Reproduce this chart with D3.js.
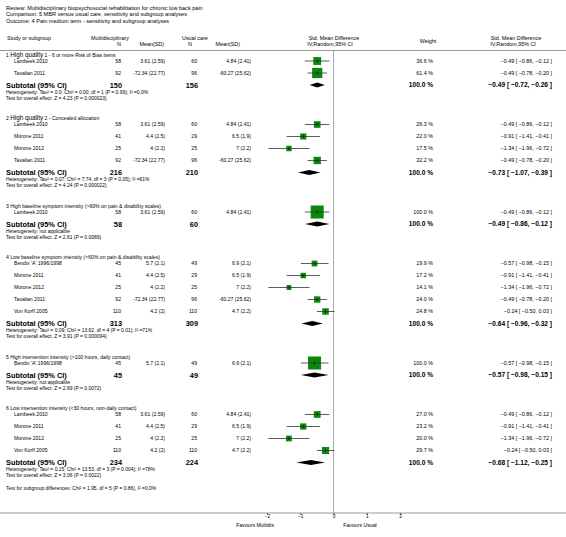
<!DOCTYPE html>
<html><head><meta charset="utf-8">
<script src="https://cdn.jsdelivr.net/npm/d3@7"></script>
<style>
html,body{margin:0;padding:0;background:#fff;}
svg{display:block;font-family:"Liberation Sans",Arial,sans-serif;}
</style></head>
<body><svg id="c" width="566" height="537"></svg>
<script>
// ---------- DATA ----------
const titleLines = [
  "Review:  Multidisciplinary biopsychosocial rehabilitation for chronic low back pain",
  "Comparison:  5 MBR versus usual care, sensitivity and subgroup analyses",
  "Outcome:  4 Pain medium term - sensitivity and subgroup analyses"
];
const groupNums = ["1", "2", "3", "4", "5", "6"];
const groupBig = ["High quality", "High quality", "", "", "", ""];
const groupRest = [
  " 1 - 6 or more Risk of Bias items",
  " 2 - Concealed allocation",
  "High baseline symptom intensity (>60% on pain & disability scales)",
  "Low baseline symptom intensity (<60% on pain & disability scales)",
  "High intervention intensity (>100 hours, daily contact)",
  "Low intervention intensity (<30 hours, non-daily contact)"
];
const studyGroup = [0,0, 1,1,1,1, 2, 3,3,3,3,3, 4, 5,5,5,5];
const studyNames = ["Lambeek 2010","Tavalian 2011",
  "Lambeek 2010","Morone 2011","Morone 2012","Tavalian 2011",
  "Lambeek 2010",
  "Bendix 'A' 1996/1998","Morone 2011","Morone 2012","Tavalian 2011","Von Korff 2005",
  "Bendix 'A' 1996/1998",
  "Lambeek 2010","Morone 2011","Morone 2012","Von Korff 2005"];
const multN = [58,92, 58,41,25,92, 58, 45,41,25,92,110, 45, 58,41,25,110];
const multMean = ["3.61 (2.59)","-72.34 (22.77)",
  "3.61 (2.59)","4.4 (2.5)","4 (2.2)","-72.34 (22.77)",
  "3.61 (2.59)",
  "5.7 (2.1)","4.4 (2.5)","4 (2.2)","-72.34 (22.77)","4.2 (2)",
  "5.7 (2.1)",
  "3.61 (2.59)","4.4 (2.5)","4 (2.2)","4.2 (2)"];
const usualN = [60,96, 60,29,25,96, 60, 49,29,25,96,110, 49, 60,29,25,110];
const usualMean = ["4.84 (2.41)","-60.27 (25.62)",
  "4.84 (2.41)","6.5 (1.9)","7 (2.2)","-60.27 (25.62)",
  "4.84 (2.41)",
  "6.9 (2.1)","6.5 (1.9)","7 (2.2)","-60.27 (25.62)","4.7 (2.2)",
  "6.9 (2.1)",
  "4.84 (2.41)","6.5 (1.9)","7 (2.2)","4.7 (2.2)"];
const weights = [36.6,61.4, 26.3,22.0,17.5,32.2, 100.0, 19.9,17.2,14.1,24.0,24.8, 100.0, 27.0,23.2,20.0,29.7];
const smd   = [-0.49,-0.49, -0.49,-0.91,-1.34,-0.49, -0.49, -0.57,-0.91,-1.34,-0.49,-0.24, -0.57, -0.49,-0.91,-1.34,-0.24];
const ciLow = [-0.86,-0.78, -0.86,-1.41,-1.96,-0.78, -0.86, -0.98,-1.41,-1.96,-0.78,-0.50, -0.98, -0.86,-1.41,-1.96,-0.50];
const ciHigh= [-0.12,-0.20, -0.12,-0.41,-0.72,-0.20, -0.12, -0.15,-0.41,-0.72,-0.20, 0.03, -0.15, -0.12,-0.41,-0.72, 0.03];

const subMultN = [150,216,58,313,45,234];
const subUsualN = [156,210,60,309,49,224];
const subSmd = [-0.49,-0.73,-0.49,-0.64,-0.57,-0.68];
const subLow = [-0.72,-1.07,-0.86,-0.96,-0.98,-1.12];
const subHigh = [-0.26,-0.39,-0.12,-0.32,-0.15,-0.25];
const hetText = [
  "Heterogeneity: Tau\u00B2 = 0.0; Chi\u00B2 = 0.00, df = 1 (P = 0.99); I\u00B2 =0.0%",
  "Heterogeneity: Tau\u00B2 = 0.07; Chi\u00B2 = 7.74, df = 3 (P = 0.05); I\u00B2 =61%",
  "Heterogeneity: not applicable",
  "Heterogeneity: Tau\u00B2 = 0.09; Chi\u00B2 = 13.62, df = 4 (P = 0.01); I\u00B2 =71%",
  "Heterogeneity: not applicable",
  "Heterogeneity: Tau\u00B2 = 0.15; Chi\u00B2 = 13.53, df = 3 (P = 0.004); I\u00B2 =78%"
];
const testText = [
  "Test for overall effect: Z = 4.23 (P = 0.000023)",
  "Test for overall effect: Z = 4.24 (P = 0.000022)",
  "Test for overall effect: Z = 2.61 (P = 0.0089)",
  "Test for overall effect: Z = 3.91 (P = 0.000094)",
  "Test for overall effect: Z = 2.69 (P = 0.0072)",
  "Test for overall effect: Z = 3.06 (P = 0.0022)"
];
const subgroupTest = "Test for subgroup differences: Chi\u00B2 = 1.95, df = 5 (P = 0.86), I\u00B2 =0.0%";
const axisTicks = [-2,-1,0,1,2];
const favoursLeft = "Favours Multidis";
const favoursRight = "Favours Usual";

// ---------- DRAW ----------
const svg = d3.select("#c");
const FS = 5.1, FR = 5.4, FB = 7.4, FBR = 6.6, FH = 5.4, FT = 4.95;
const x = d3.scaleLinear().domain([-2,2]).range([267,400]);
const axisY = 513;
const f2 = d3.format(".2f");
const ciStr = (m,l,h) => f2(m) + " [ " + f2(l) + ", " + f2(h) + " ]";

function txt(xx, yy, s, opt={}) {
  return svg.append("text").attr("x", xx).attr("y", yy).attr("dy","0.35em")
    .attr("font-size", opt.fs || FS)
    .attr("font-weight", opt.bold ? "bold" : null)
    .attr("text-anchor", opt.anchor || "start")
    .attr("fill", "#000").text(s);
}

titleLines.forEach((t,i) => txt(6, 8 + i*6.3, t, {fs:5.55}));

// header
txt(7, 38, "Study or subgroup", {fs:FH});
txt(91, 38, "Multidisciplinary", {fs:FH});
txt(121, 44.5, "N", {fs:FH, anchor:"end"});
txt(164, 44.5, "Mean(SD)", {fs:FH, anchor:"end"});
txt(182, 38, "Usual care", {fs:FH});
txt(192, 44.5, "N", {fs:FH, anchor:"end"});
txt(240, 44.5, "Mean(SD)", {fs:FH, anchor:"end"});
txt(334, 38, "Std. Mean Difference", {fs:FH, anchor:"middle"});
txt(330, 44.5, "IV,Random,95% CI", {fs:FH, anchor:"middle"});
txt(428, 41, "Weight", {fs:FH, anchor:"middle"});
txt(516, 38, "Std. Mean Difference", {fs:FH, anchor:"middle"});
txt(513, 44.5, "IV,Random,95% CI", {fs:FH, anchor:"middle"});

svg.append("line").attr("x1",0).attr("x2",566).attr("y1",50.5).attr("y2",50.5)
  .attr("stroke","#999").attr("stroke-width",1);

// zero line
svg.append("line").attr("x1",x(0)).attr("x2",x(0)).attr("y1",51).attr("y2",axisY)
  .attr("stroke","#aaa").attr("stroke-width",1);

// layout
let y = 61;
const studyY = [];
const subY = [];
groupNums.forEach((g, gi) => {
  const idx = studyGroup.map((v,i)=>v===gi ? i : -1).filter(i=>i>=0);
  const hy = y - 6;
  const t = svg.append("text").attr("x",6).attr("y",hy).attr("dy","0.35em").attr("font-size",FS).attr("fill","#000");
  t.append("tspan").text(g + " ");
  if (groupBig[gi]) t.append("tspan").attr("font-size",6.3).text(groupBig[gi]);
  t.append("tspan").text(groupRest[gi]);
  idx.forEach((si, k) => { studyY[si] = y + 12*k; });
  const sy = y + 12*idx.length;
  subY[gi] = sy;
  y = sy + 39.5;
});

// study rows
studyNames.forEach((n,i) => {
  const yy = studyY[i];
  txt(14, yy, n);
  txt(121, yy, multN[i], {anchor:"end"});
  txt(165, yy, multMean[i], {anchor:"end"});
  txt(197, yy, usualN[i], {anchor:"end"});
  txt(251, yy, usualMean[i], {anchor:"end"});
  txt(433, yy, d3.format(".1f")(weights[i]) + " %", {fs:FR, anchor:"end"});
  txt(552, yy, ciStr(smd[i], ciLow[i], ciHigh[i]), {fs:FR, anchor:"end"});
  const side = 13*Math.sqrt(weights[i]/100);
  svg.append("rect").attr("x", x(smd[i]) - side/2).attr("y", yy - side/2)
    .attr("width", side).attr("height", side).attr("fill","#0a8a0a");
  svg.append("line").attr("x1", x(ciLow[i])).attr("x2", x(ciHigh[i]))
    .attr("y1", yy).attr("y2", yy).attr("stroke","#333").attr("stroke-width",0.8);
  svg.append("line").attr("x1", x(smd[i])).attr("x2", x(smd[i]))
    .attr("y1", yy-1.5).attr("y2", yy+1.5).attr("stroke","#000").attr("stroke-width",0.6);
});

// subtotals
groupNums.forEach((g,gi) => {
  const sy = subY[gi];
  txt(6, sy, "Subtotal (95% CI)", {fs:FB, bold:true});
  txt(122, sy, subMultN[gi], {fs:FB, bold:true, anchor:"end"});
  txt(198, sy, subUsualN[gi], {fs:FB, bold:true, anchor:"end"});
  txt(433, sy, "100.0 %", {fs:FBR, bold:true, anchor:"end"});
  txt(552, sy, ciStr(subSmd[gi], subLow[gi], subHigh[gi]), {fs:FBR, bold:true, anchor:"end"});
  txt(6, sy + 7, hetText[gi], {fs:FT});
  txt(6, sy + 13, testText[gi], {fs:FT});
  const pts = [[x(subLow[gi]), sy],[x(subSmd[gi]), sy-2.6],[x(subHigh[gi]), sy],[x(subSmd[gi]), sy+2.6]];
  svg.append("polygon").attr("points", pts.map(p=>p.join(",")).join(" ")).attr("fill","#000");
});

txt(6, subY[5] + 26, subgroupTest, {fs:FT});

// axis
svg.append("line").attr("x1",0).attr("x2",566).attr("y1",axisY).attr("y2",axisY)
  .attr("stroke","#999").attr("stroke-width",1.2);
const ax = d3.axisBottom(x).tickValues(axisTicks).tickSize(2).tickFormat(d3.format("d"));
const axG = svg.append("g").attr("transform",`translate(0,${axisY})`).call(ax);
axG.select(".domain").remove();
axG.selectAll(".tick line").attr("stroke","#666");
axG.selectAll(".tick text").attr("font-size",4.8).attr("font-family","Liberation Sans, Arial, sans-serif").attr("dy","0.5em").attr("y",3).attr("fill","#000");
txt(274, 525, favoursLeft, {fs:5.2, anchor:"end"});
txt(360, 525, favoursRight, {fs:5.2, anchor:"middle"});
</script></body></html>
